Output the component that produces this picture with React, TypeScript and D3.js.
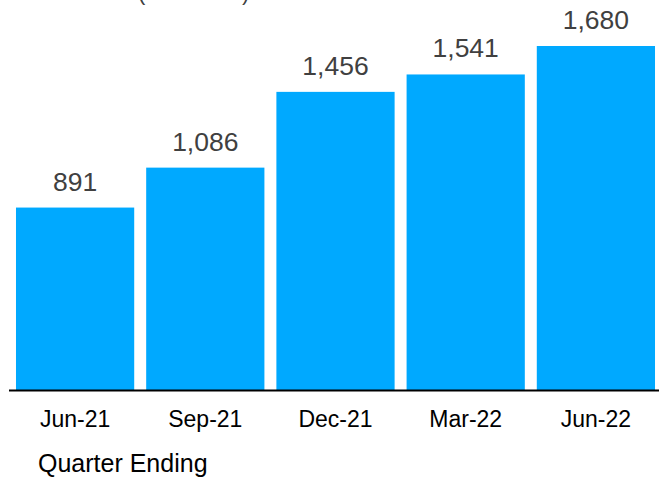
import React from "react";
import * as d3 from "d3";

const categories = ["Jun-21", "Sep-21", "Dec-21", "Mar-22", "Jun-22"];
const values = [891, 1086, 1456, 1541, 1680];
const axisTitle = "Quarter Ending";
const topTitle = "(in millions)";

const W = 659;
const H = 479;
const baseY = 390;

export default function App() {
  const x = d3
    .scaleBand<string>()
    .domain(categories)
    .range([10, 661])
    .paddingInner(0.092)
    .paddingOuter(0.046);
  const y = d3.scaleLinear().domain([0, 1680]).range([baseY, 46]);
  const fmt = d3.format(",");

  return (
    <svg
      width={W}
      height={H}
      style={{ position: "absolute", left: 0, top: 0, fontFamily: "Liberation Sans, Arial, sans-serif" }}
    >
      <rect width={W} height={H} fill="#ffffff" />
      <text x={138} y={0} fontSize={22} fill="#404040">{topTitle}</text>
      {categories.map((c, i) => (
        <g key={c}>
          <rect
            x={x(c)}
            y={y(values[i])}
            width={x.bandwidth()}
            height={baseY - y(values[i])}
            fill="#00A9FF"
          />
          <text
            x={(x(c) as number) + x.bandwidth() / 2}
            y={y(values[i]) - 17}
            textAnchor="middle"
            fontSize={26.5}
            fill="#404040"
          >
            {fmt(values[i])}
          </text>
          <text
            x={(x(c) as number) + x.bandwidth() / 2}
            y={427}
            textAnchor="middle"
            fontSize={23}
            fill="#000000"
          >
            {c}
          </text>
        </g>
      ))}
      <line x1={9} x2={W} y1={baseY + 0.5} y2={baseY + 0.5} stroke="#000" strokeWidth={2} />
      <text x={38} y={472} fontSize={25} fill="#000000">{axisTitle}</text>
    </svg>
  );
}
